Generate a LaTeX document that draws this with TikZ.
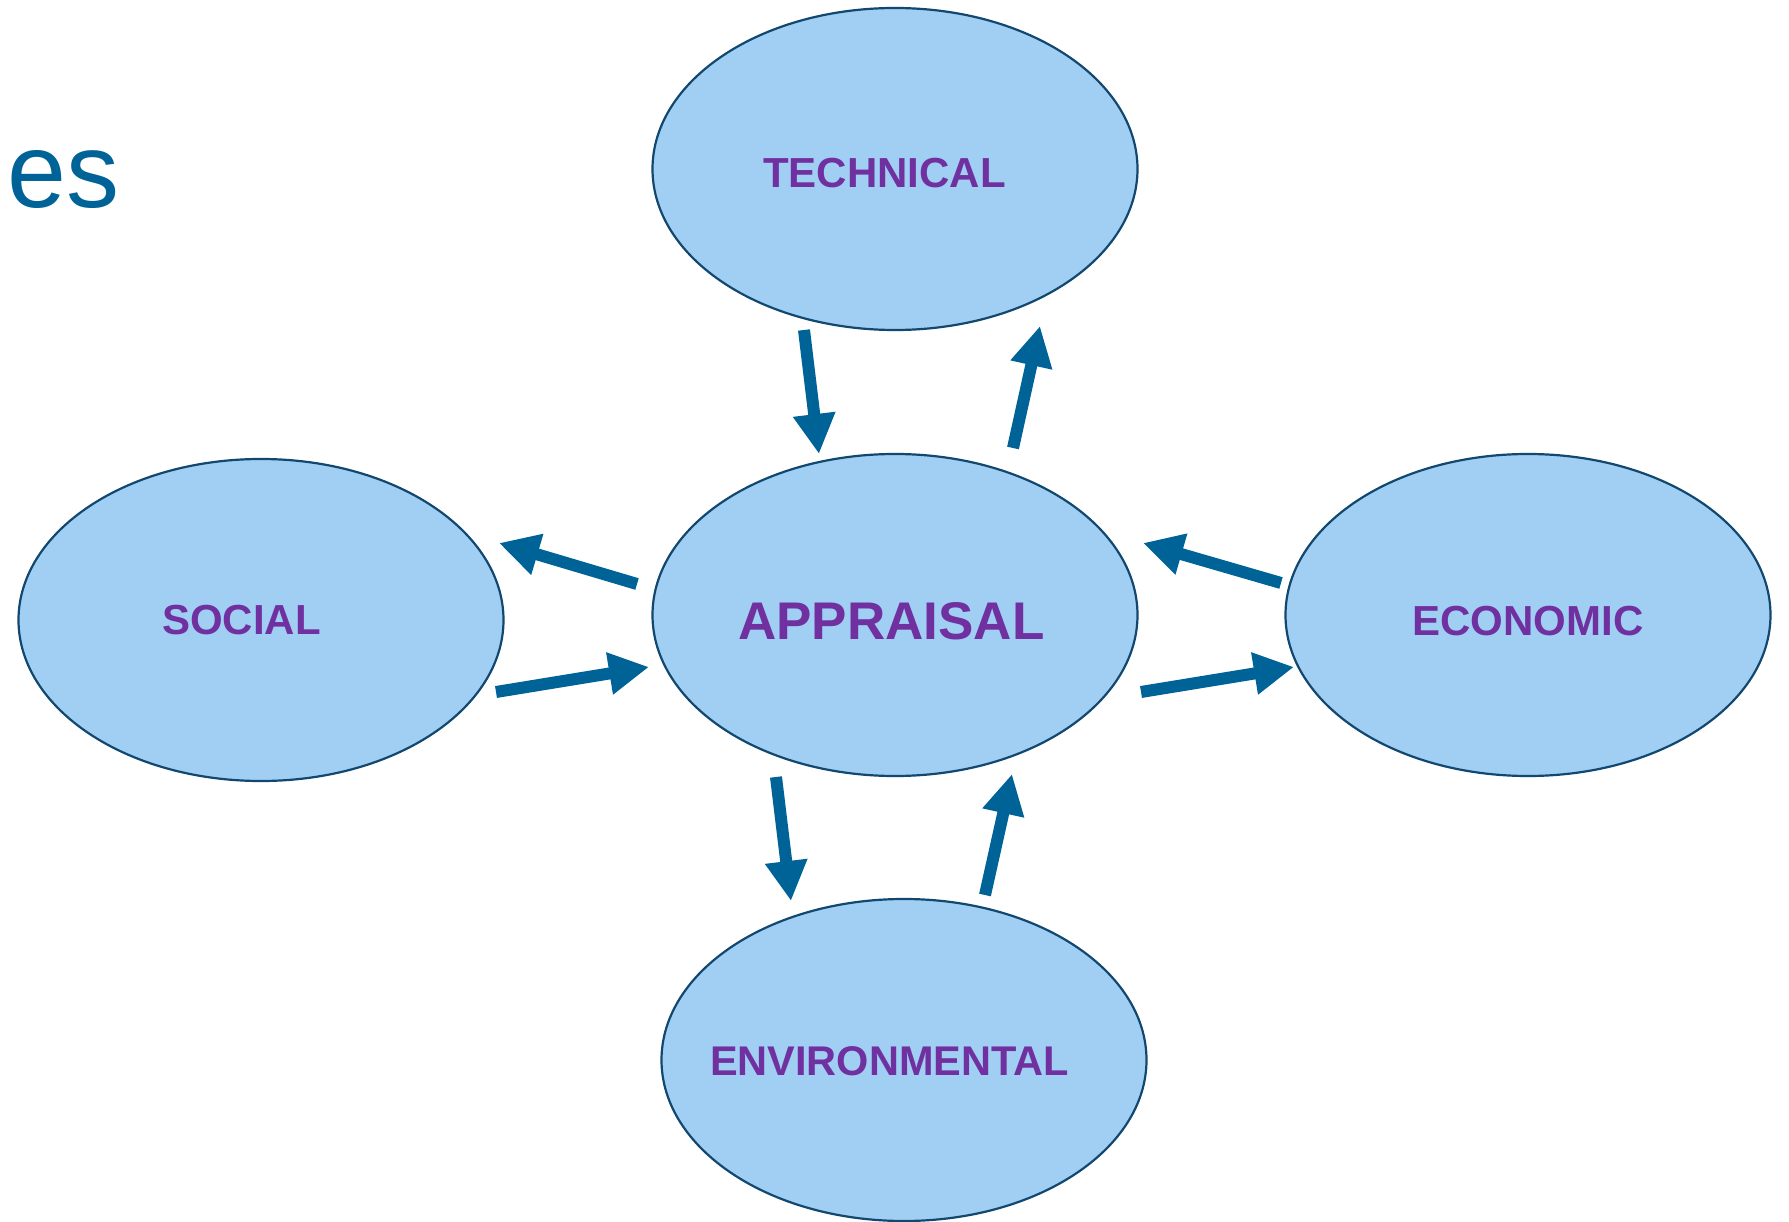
\documentclass[tikz,border=0pt]{standalone}
\usepackage{fontspec}
\setmainfont{Liberation Sans}
\usepackage{tikz}
\usetikzlibrary{shapes.geometric,arrows.meta}
\usepackage{xcolor}
\definecolor{blobfill}{RGB}{160,207,243}
\definecolor{blobline}{RGB}{18,72,112}
\definecolor{arrowblue}{RGB}{0,99,151}
\definecolor{labelpurple}{RGB}{112,48,160}

\begin{document}
\begin{tikzpicture}[
  x=1pt,y=-1pt,
  blob/.style={ellipse,draw=blobline,line width=2.2pt,fill=blobfill,
    minimum width=485pt,minimum height=322pt,inner sep=0pt},
  lbl/.style={anchor=base,text=labelpurple,inner sep=0pt,
    font=\bfseries\fontsize{#1}{#1}\selectfont},
  lbl/.default=42,
  fat/.style={draw=arrowblue,line width=12pt,
    -{Triangle[width=40pt,length=40pt]}}
  ]
\useasboundingbox (0,0) rectangle (1789,1222);
\node[anchor=base east,inner sep=0pt,text=arrowblue,
  font=\fontsize{106}{106}\selectfont] (title) at (120,208) {es};   % cut title
\node[blob] (tech) at (895,169){};     % top
\node[blob] (appr) at (895,615){};     % centre
\node[blob] (soc)  at (261,620){};     % left
\node[blob] (econ) at (1528,615){};    % right
\node[blob] (env)  at (904,1060){};    % bottom
\node[lbl] (techtxt) at (884.5,188) {TECHNICAL};
\node[lbl=53] (apprtxt) at (891.5,639) {APPRAISAL};
\node[lbl] (soctxt) at (241.5,634) {SOCIAL};
\node[lbl] (econtxt) at (1528,635) {ECONOMIC};
\node[lbl=41.5] (envtxt) at (889.5,1075) {ENVIRONMENTAL};
% arrow ends
\coordinate (tA) at (804,330);  \coordinate (tB) at (819,454);
\coordinate (tC) at (1013,448); \coordinate (tD) at (1040,326);
\coordinate (sA) at (637,584);  \coordinate (sB) at (499,543);
\coordinate (sC) at (496,692);  \coordinate (sD) at (649,667);
\coordinate (eA) at (1281,583); \coordinate (eB) at (1143,543);
\coordinate (eC) at (1141,692); \coordinate (eD) at (1294,667);
\coordinate (vA) at (776,777);  \coordinate (vB) at (791,901);
\coordinate (vC) at (985,895);  \coordinate (vD) at (1012,774);
\draw[fat] (tA) -- (tB);
\draw[fat] (tC) -- (tD);
\draw[fat] (sA) -- (sB);
\draw[fat] (sC) -- (sD);
\draw[fat] (eA) -- (eB);
\draw[fat] (eC) -- (eD);
\draw[fat] (vA) -- (vB);
\draw[fat] (vC) -- (vD);
\end{tikzpicture}
\end{document}
